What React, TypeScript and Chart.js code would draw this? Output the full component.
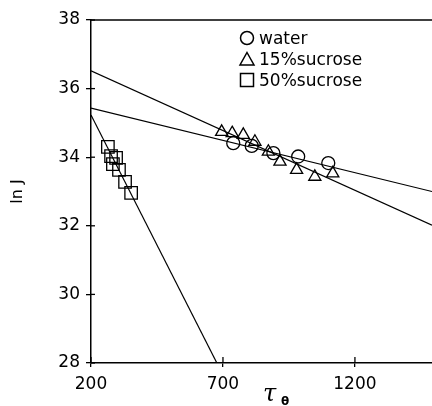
import React, { useEffect, useRef } from "react";
import { Chart, registerables } from "chart.js";
Chart.register(...registerables);

const xTicks = [200, 700, 1200];
const yTicks = [28, 30, 32, 34, 36, 38];

const waterX = [739, 809, 891, 985, 1099];
const waterY = [34.41, 34.33, 34.12, 34.02, 33.83];
const suc15X = [695, 735, 777, 821, 872, 916, 979, 1048, 1116];
const suc15Y = [34.74, 34.7, 34.65, 34.45, 34.16, 33.87, 33.63, 33.43, 33.53];
const suc50X = [264, 276, 283, 295, 306, 329, 352];
const suc50Y = [34.3, 34.03, 33.8, 33.98, 33.63, 33.28, 32.96];

const fitX = [200, 1492];
const waterFit = [35.43, 33.0];
const suc15Fit = [36.52, 32.02];
const suc50FitX = [200, 700];
const suc50Fit = [35.23, 27.65];

const legendLabels = ["water", "15%sucrose", "50%sucrose"];
const xTitle = "τ";
const xTitleSub = "θ";
const yTitle = "ln J";

const pts = (xs: number[], ys: number[]) => xs.map((x, i) => ({ x, y: ys[i] }));

const decor = {
  id: "decor",
  afterDraw(chart: any) {
    const { ctx, chartArea: a, scales } = chart;
    ctx.save();
    ctx.strokeStyle = "#000";
    ctx.fillStyle = "#000";
    ctx.lineWidth = 1.5;
    ctx.beginPath();
    ctx.moveTo(a.left, a.top);
    ctx.lineTo(a.right, a.top);
    ctx.stroke();
    ctx.lineWidth = 1.3;
    yTicks.forEach((v) => {
      const y = scales.y.getPixelForValue(v);
      ctx.beginPath();
      ctx.moveTo(a.left, y);
      ctx.lineTo(a.left + 4, y);
      ctx.stroke();
    });
    xTicks.forEach((v) => {
      const x = scales.x.getPixelForValue(v);
      ctx.beginPath();
      ctx.moveTo(x, a.bottom);
      ctx.lineTo(x, a.bottom - 6);
      ctx.stroke();
    });
    ctx.lineWidth = 1.5;
    const lx = 247;
    const rows = [38, 59, 80];
    const baselines = [44, 65, 85.5];
    ctx.beginPath();
    ctx.arc(lx, rows[0], 6.5, 0, Math.PI * 2);
    ctx.stroke();
    ctx.beginPath();
    ctx.moveTo(lx, rows[1] - 6.5);
    ctx.lineTo(lx + 7, rows[1] + 6);
    ctx.lineTo(lx - 7, rows[1] + 6);
    ctx.closePath();
    ctx.stroke();
    ctx.strokeRect(lx - 6.5, rows[2] - 6.5, 13, 13);
    ctx.font = "17px 'DejaVu Sans'";
    ctx.textAlign = "left";
    ctx.textBaseline = "alphabetic";
    legendLabels.forEach((t, i) => ctx.fillText(t, 259, baselines[i]));
    ctx.font = "italic 24px 'DejaVu Serif'";
    ctx.fillText(xTitle, 263, 401);
    ctx.font = "bold 12px 'DejaVu Sans'";
    ctx.fillText(xTitleSub, 281, 405);
    ctx.restore();
  },
};

export default function App() {
  const ref = useRef<HTMLCanvasElement>(null);
  useEffect(() => {
    if (!ref.current) return;
    const tickFont = { family: "'DejaVu Sans'", size: 17 };
    const ptBase = {
      backgroundColor: "rgba(0,0,0,0)",
      borderColor: "#000",
      pointBorderWidth: 1.3,
      showLine: false,
    };
    const lineBase = {
      showLine: true,
      pointRadius: 0,
      borderColor: "#000",
      borderWidth: 1.2,
      backgroundColor: "rgba(0,0,0,0)",
    };
    const chart = new Chart(ref.current, {
      type: "scatter",
      data: {
        datasets: [
          { ...lineBase, data: pts(fitX, waterFit) },
          { ...lineBase, data: pts(fitX, suc15Fit) },
          { ...lineBase, data: pts(suc50FitX, suc50Fit) },
          { ...ptBase, label: legendLabels[0], data: pts(waterX, waterY), pointStyle: "circle", pointRadius: 6.5 },
          { ...ptBase, label: legendLabels[1], data: pts(suc15X, suc15Y), pointStyle: "triangle", pointRadius: 7 },
          { ...ptBase, label: legendLabels[2], data: pts(suc50X, suc50Y), pointStyle: "rect", pointRadius: 8.8 },
        ],
      } as any,
      options: {
        animation: false,
        responsive: false,
        devicePixelRatio: 1,
        layout: { autoPadding: false, padding: { top: 20, right: 0, bottom: 0, left: 0 } },
        plugins: { legend: { display: false }, tooltip: { enabled: false } },
        scales: {
          x: {
            type: "linear",
            min: 200,
            max: 1492,
            afterBuildTicks: (s: any) => {
              s.ticks = xTicks.map((v) => ({ value: v }));
            },
            afterFit: (s: any) => {
              s.height = 43;
              s.paddingRight = 0;
              s.paddingLeft = 0;
            },
            grid: { drawOnChartArea: false, drawTicks: true, tickLength: 4, color: "#000", lineWidth: 1.3 },
            border: { display: true, color: "#000", width: 1.5 },
            ticks: {
              color: "#000",
              font: tickFont,
              padding: 7,
              maxRotation: 0,
              autoSkip: false,
              callback: (v: any) => String(v),
            },
          },
          y: {
            type: "linear",
            min: 28,
            max: 38,
            afterBuildTicks: (s: any) => {
              s.ticks = yTicks.map((v) => ({ value: v }));
            },
            afterFit: (s: any) => {
              s.width = 91;
              s.paddingTop = 0;
              s.paddingBottom = 0;
            },
            grid: { drawOnChartArea: false, drawTicks: true, tickLength: 5, color: "#000", lineWidth: 1.3 },
            border: { display: true, color: "#000", width: 1.5 },
            ticks: { color: "#000", font: tickFont, padding: 6, autoSkip: false, callback: (v: any) => String(v) },
            title: {
              display: true,
              text: yTitle,
              color: "#000",
              font: { family: "'DejaVu Sans'", size: 16 },
              padding: { top: 8, bottom: 0 },
            },
          },
        },
      } as any,
      plugins: [decor],
    });
    return () => chart.destroy();
  }, []);
  return (
    <div style={{ position: "absolute", left: 0, top: 0, width: 432, height: 406, background: "#fff" }}>
      <canvas ref={ref} width={432} height={406} style={{ display: "block" }} />
    </div>
  );
}
